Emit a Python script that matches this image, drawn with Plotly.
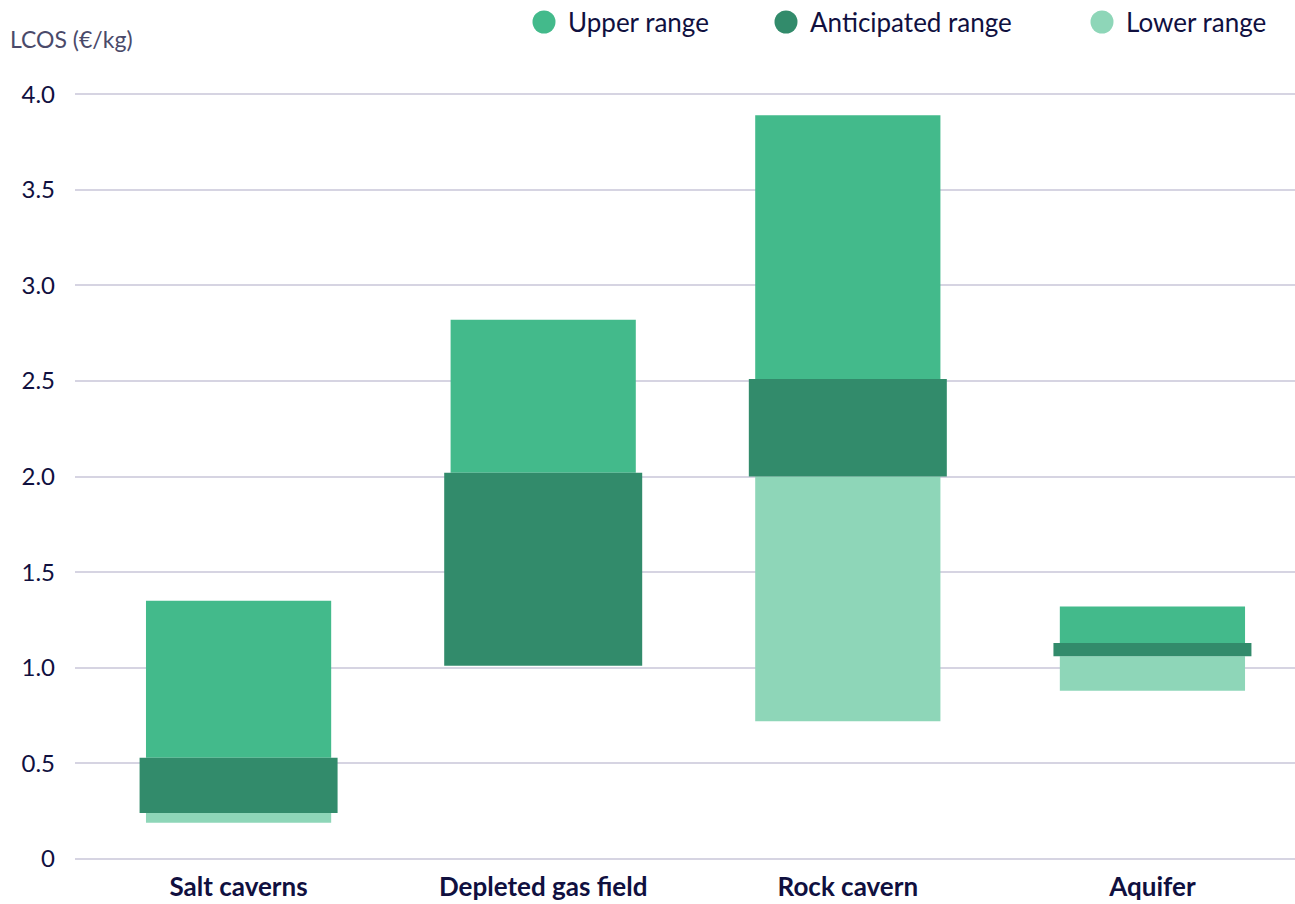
import plotly.graph_objects as go

categories = ["Salt caverns", "Depleted gas field", "Rock cavern", "Aquifer"]
upper_low = [0.53, 2.02, 2.51, 1.13]
upper_high = [1.35, 2.82, 3.89, 1.32]
anticipated_low = [0.24, 1.01, 2.00, 1.06]
anticipated_high = [0.53, 2.02, 2.51, 1.13]
lower_low = [0.19, None, 0.72, 0.88]
lower_high = [0.24, None, 2.00, 1.06]
y_ticks = [0, 0.5, 1.0, 1.5, 2.0, 2.5, 3.0, 3.5, 4.0]
y_tick_text = ["0", "0.5", "1.0", "1.5", "2.0", "2.5", "3.0", "3.5", "4.0"]
legend_names = ["Upper range", "Anticipated range", "Lower range"]

C_UPPER = "#43BA8B"
C_ANT = "#328B6B"
C_LOWER = "#8ED6B8"
TEXT = "#10103F"
FONT = "Lato"

xs = list(range(len(categories)))


def span(lo, hi):
    return [None if (a is None or b is None) else b - a for a, b in zip(lo, hi)]


fig = go.Figure()
fig.add_trace(go.Bar(x=xs, y=span(lower_low, lower_high), base=lower_low, width=0.608,
                     marker=dict(color=C_LOWER, line=dict(width=0)), showlegend=False, name="Lower range"))
fig.add_trace(go.Bar(x=xs, y=span(upper_low, upper_high), base=upper_low, width=0.608,
                     marker=dict(color=C_UPPER, line=dict(width=0)), showlegend=False, name="Upper range"))
fig.add_trace(go.Bar(x=xs, y=span(anticipated_low, anticipated_high), base=anticipated_low, width=0.65,
                     marker=dict(color=C_ANT, line=dict(width=0)), showlegend=False, name="Anticipated range"))

plot_left, plot_right, plot_top, plot_bottom = 75, 1295, 75, 859
pw = plot_right - plot_left
ph = plot_bottom - plot_top


def px_x(px):
    return (px - plot_left) / pw


def px_y(py):
    return (plot_bottom - py) / ph


# custom legend: circles + labels
legend_colors = [C_UPPER, C_ANT, C_LOWER]
legend_centers = [544, 786, 1102]
lg_y = px_y(22)
shapes = []
annotations = []
for name, col, cx in zip(legend_names, legend_colors, legend_centers):
    shapes.append(dict(type="circle", xref="paper", yref="paper", xsizemode="pixel", ysizemode="pixel",
                       xanchor=px_x(cx), yanchor=lg_y, x0=-11.5, x1=11.5, y0=-11.5, y1=11.5,
                       fillcolor=col, line=dict(width=0)))
    annotations.append(dict(text=name, xref="paper", yref="paper", x=px_x(cx + 22), y=lg_y,
                            xanchor="left", yanchor="middle", showarrow=False,
                            font=dict(family=FONT, size=26, color=TEXT)))

annotations.append(dict(text="LCOS (€/kg)", xref="paper", yref="paper", x=px_x(8), y=px_y(39),
                        xanchor="left", yanchor="middle", showarrow=False,
                        font=dict(family=FONT, size=23, color="#4A4A6A")))

fig.update_layout(
    width=1295, height=904,
    margin=dict(l=plot_left, r=1295 - plot_right, t=plot_top, b=904 - plot_bottom, autoexpand=False),
    barmode="overlay",
    showlegend=False,
    plot_bgcolor="white", paper_bgcolor="white",
    font=dict(family=FONT, color=TEXT),
    xaxis=dict(range=[-0.537, 3.468], tickvals=xs, ticktext=categories, showgrid=False, zeroline=False,
               showline=False, ticks="", tickfont=dict(family=FONT, size=26, color=TEXT, weight="bold"),
               ticklabelstandoff=10, fixedrange=True),
    yaxis=dict(range=[0, 4.1], tickvals=y_ticks, ticktext=y_tick_text, showgrid=True, gridcolor="#D6D4E2",
               gridwidth=1.5, zeroline=True, zerolinecolor="#D6D4E2", zerolinewidth=1.5, showline=False,
               ticks="", tickfont=dict(family=FONT, size=24, color=TEXT), ticklabelstandoff=19, fixedrange=True),
    shapes=shapes,
    annotations=annotations,
)

fig.write_html("out.html")
